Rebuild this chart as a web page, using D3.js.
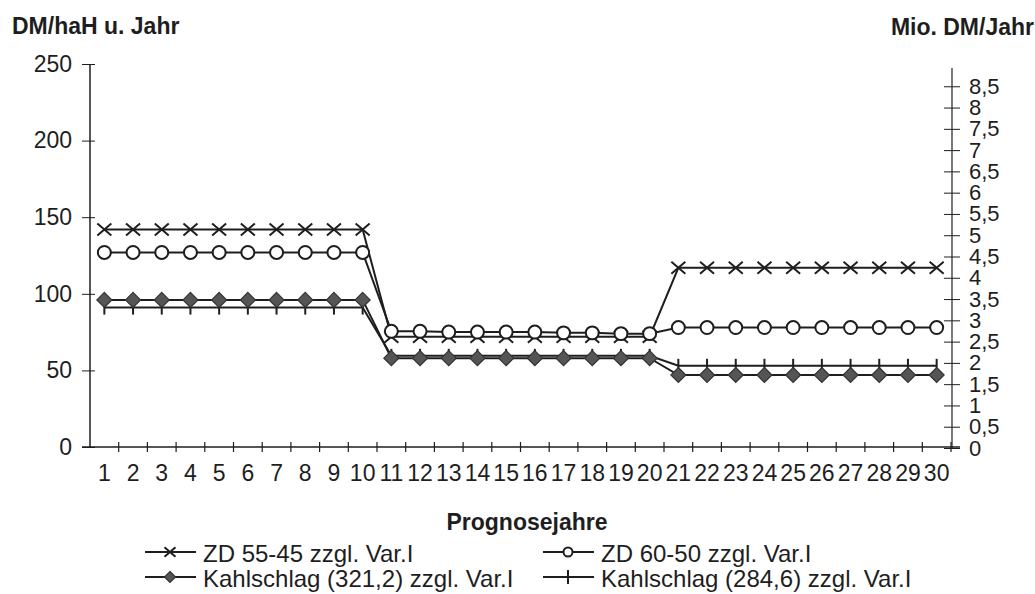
<!DOCTYPE html>
<html><head><meta charset="utf-8">
<script src="https://cdn.jsdelivr.net/npm/d3@7"></script>
<style>
html,body{margin:0;padding:0;background:#fff;}
svg{display:block;font-family:"Liberation Sans",Arial,Helvetica,sans-serif;}
</style></head>
<body>
<svg id="chart" width="1035" height="594"></svg>
<script>
// ---- data ----
const years = d3.range(1, 31);
const zd5545   = [142,142,142,142,142,142,142,142,142,142, 72,72,72,72,72,72,72,72,72,72, 117,117,117,117,117,117,117,117,117,117];
const zd6050   = [127,127,127,127,127,127,127,127,127,127, 75.5,75.5,75,75,75,75,74.5,74.5,74,74, 78,78,78,78,78,78,78,78,78,78];
const kahl3212 = [96,96,96,96,96,96,96,96,96,96, 58,58,58,58,58,58,58,58,58,58, 47,47,47,47,47,47,47,47,47,47];
const kahl2846 = [91,91,91,91,91,91,91,91,91,91, 59.5,59.5,59.5,59.5,59.5,59.5,59.5,59.5,59.5,59.5, 53,53,53,53,53,53,53,53,53,53];
const leftTicks = [0,50,100,150,200,250];
const rightTicks = [0,0.5,1,1.5,2,2.5,3,3.5,4,4.5,5,5.5,6,6.5,7,7.5,8,8.5];
const seriesNames = ["ZD 55-45 zzgl. Var.I","ZD 60-50 zzgl. Var.I","Kahlschlag (321,2) zzgl. Var.I","Kahlschlag (284,6) zzgl. Var.I"];
const seriesMarkers = ["x","circle","diamond","plus"];
const seriesValues = [zd5545, zd6050, kahl3212, kahl2846];
const leftTitle = "DM/haH u. Jahr";
const rightTitle = "Mio. DM/Jahr";
const xTitle = "Prognosejahre";

// ---- layout ----
const svg = d3.select("#chart");
const X0 = 90, X1 = 951, Y0 = 447, YTOP = 64;
const ink = "#1e1e1e";
const fsTick = 23, fsTitle = 23, fsLeg = 24;

const x = d3.scaleBand().domain(years).range([X0, X1]).padding(0);
const xc = d => x(d) + x.bandwidth()/2;
const y = d3.scaleLinear().domain([0,250]).range([Y0, YTOP]);
const yR = d3.scaleLinear().domain([0,9]).range([Y0+1, YTOP+1]);

// titles
svg.append("text").attr("x", 12).attr("y", 34).attr("font-size", fsTitle).attr("font-weight","bold").attr("fill", ink).text(leftTitle);
svg.append("text").attr("x", 1034).attr("y", 35).attr("text-anchor","end").attr("font-size", fsTitle).attr("font-weight","bold").attr("fill", ink).text(rightTitle);

// left axis
const gL = svg.append("g").attr("transform", `translate(${X0},0)`)
  .call(d3.axisLeft(y).tickValues(leftTicks).tickSize(8).tickPadding(10));
gL.select(".domain").attr("stroke", ink).attr("stroke-width", 1.5).attr("d", `M0,${Y0}V${YTOP}`);
gL.selectAll(".tick line").attr("stroke", ink).attr("x1", 5);
gL.selectAll(".tick text").attr("font-size", fsTick).attr("fill", ink).attr("font-family","Liberation Sans, Arial, sans-serif");

// right axis
const gR = svg.append("g").attr("transform", `translate(${X1+1},0)`)
  .call(d3.axisRight(yR).tickValues(rightTicks).tickSize(8).tickPadding(9)
    .tickFormat(d => String(d).replace(".", ",")));
gR.select(".domain").attr("stroke", "#333").attr("stroke-width", 1.3).attr("d", `M0,${Y0+2}V${YTOP+4}`);
gR.selectAll(".tick line").attr("stroke", ink).attr("x1", -8);
gR.selectAll(".tick text").attr("font-size", 22).attr("fill", ink).attr("font-family","Liberation Sans, Arial, sans-serif");

// x axis
const gX = svg.append("g").attr("transform", `translate(0,${Y0})`)
  .call(d3.axisBottom(x).tickSize(0).tickPadding(18));
gX.select(".domain").remove();
gX.selectAll(".tick text").attr("font-size", fsTick).attr("fill", ink).attr("font-family","Liberation Sans, Arial, sans-serif");
svg.append("line").attr("x1", X0-8).attr("x2", X1+9).attr("y1", Y0).attr("y2", Y0).attr("stroke", ink).attr("stroke-width", 1.5);
const bounds = years.map(d => x(d)).concat([x(years[years.length-1]) + x.bandwidth()]);
svg.append("g").selectAll("line").data(bounds.slice(1)).join("line")
  .attr("x1", d => d).attr("x2", d => d).attr("y1", Y0-5).attr("y2", Y0+5)
  .attr("stroke", ink).attr("stroke-width", 1.2);

svg.append("text").attr("x", 527).attr("y", 530).attr("text-anchor","middle")
  .attr("font-size", fsTitle).attr("font-weight","bold").attr("fill", ink).text(xTitle);

// marker drawing
function drawMarker(g, type, cx, cy, s) {
  if (type === "x") {
    g.append("path").attr("d", `M${cx-s},${cy-s*0.85}L${cx+s},${cy+s*0.85}M${cx-s},${cy+s*0.85}L${cx+s},${cy-s*0.85}`)
      .attr("stroke", ink).attr("stroke-width", 2).attr("fill","none");
  } else if (type === "circle") {
    g.append("circle").attr("cx", cx).attr("cy", cy).attr("r", s*0.9)
      .attr("fill", "#fff").attr("stroke", ink).attr("stroke-width", 2);
  } else if (type === "diamond") {
    g.append("path").attr("d", `M${cx},${cy-s}L${cx+s},${cy}L${cx},${cy+s}L${cx-s},${cy}Z`)
      .attr("fill", "#555").attr("stroke", "#333").attr("stroke-width", 1.2);
  } else if (type === "plus") {
    g.append("path").attr("d", `M${cx},${cy-s}V${cy+s}`)
      .attr("stroke", ink).attr("stroke-width", 2).attr("fill","none");
  }
}

const line = d3.line().x((d,i) => xc(years[i])).y(d => y(d));
// draw in order: plus, diamond, x, circle
const order = [3, 2, 0, 1];
order.forEach(k => {
  const g = svg.append("g");
  g.append("path").datum(seriesValues[k]).attr("d", line)
    .attr("fill","none").attr("stroke", ink).attr("stroke-width", 2);
  const size = {x:7, circle:7.2, diamond:7.5, plus:7}[seriesMarkers[k]];
  seriesValues[k].forEach((v,i) => drawMarker(g, seriesMarkers[k], xc(years[i]), y(v), size));
});

// legend
const legPos = [[145,562],[543,562],[145,587],[543,587]];
seriesNames.forEach((name,k) => {
  const [lx, ly] = legPos[k];
  const g = svg.append("g");
  const my = ly - 10;
  g.append("line").attr("x1", lx).attr("x2", lx+51).attr("y1", my).attr("y2", my).attr("stroke", ink).attr("stroke-width", 2);
  const sz = {x:5.5, circle:5, diamond:5.5, plus:7}[seriesMarkers[k]];
  drawMarker(g, seriesMarkers[k], lx+25, my, sz);
  g.append("text").attr("x", lx+58).attr("y", ly).attr("font-size", fsLeg).attr("fill", ink).text(name);
});
</script>
</body></html>
